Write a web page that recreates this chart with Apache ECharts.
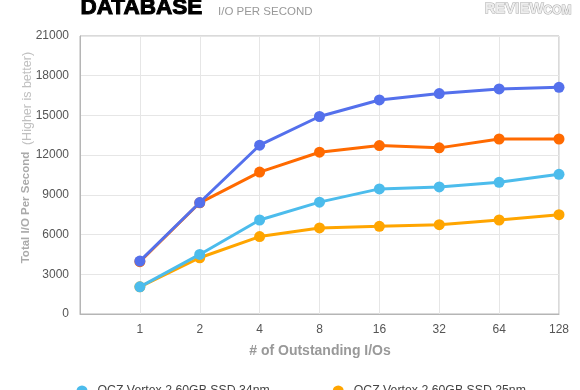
<!DOCTYPE html>
<html><head><meta charset="utf-8">
<script src="https://cdn.jsdelivr.net/npm/echarts@6/dist/echarts.min.js"></script>
<style>html,body{margin:0;padding:0;background:#fff}#c{width:580px;height:390px}</style>
</head><body><div id="c"></div>
<script>
const categories = ['1','2','4','8','16','32','64','128'];
const seriesNames = ['OCZ Vertex 2 60GB SSD 34nm','OCZ Vertex 2 60GB SSD 25nm','OCZ Vertex 2 120GB SSD 34nm','OCZ Vertex 2 120GB SSD 25nm'];
const light34 = [2050, 4500, 7100, 8450, 9450, 9600, 9950, 10550];
const orange25 = [2050, 4250, 5850, 6500, 6620, 6750, 7100, 7500];
const blue120 = [4000, 8420, 12750, 14920, 16170, 16650, 17000, 17120];
const red120 = [3950, 8400, 10720, 12220, 12720, 12550, 13220, 13220];
const yTicks = [0, 3000, 6000, 9000, 12000, 15000, 18000, 21000];

const xData = [''].concat(categories);
const pad = arr => [null].concat(arr);
const font = 'Liberation Sans, Arial, Helvetica, sans-serif';

function mk(name, data, color, z) {
  return { name, type: 'line', data: pad(data), z,
    symbol: 'circle', symbolSize: 11, showSymbol: true,
    lineStyle: { width: 3, color }, itemStyle: { color },
    emphasis: { disabled: true } };
}

const chart = echarts.init(document.getElementById('c'), null, { renderer: 'canvas' });
chart.setOption({
  animation: false,
  backgroundColor: '#fff',
  grid: { left: 80, right: 21, top: 36, bottom: 76, show: true, borderColor: '#b5b5b5', borderWidth: 1 },
  xAxis: {
    type: 'category', data: xData, boundaryGap: false,
    axisLine: { show: true, lineStyle: { color: '#b5b5b5' } },
    axisTick: { show: false },
    axisLabel: { color: '#555', fontSize: 12, fontFamily: font, margin: 10 },
    splitLine: { show: true, lineStyle: { color: '#e6e6e6' } }
  },
  yAxis: {
    type: 'value', min: yTicks[0], max: yTicks[yTicks.length - 1], interval: 3000,
    axisLine: { show: true, lineStyle: { color: '#b5b5b5' } },
    axisTick: { show: false },
    axisLabel: { color: '#555', fontSize: 12, fontFamily: font, margin: 11, formatter: v => String(v) },
    splitLine: { show: true, lineStyle: { color: '#e6e6e6' } }
  },
  legend: {
    data: [seriesNames[0], seriesNames[1], seriesNames[2], seriesNames[3]],
    left: 76.5, top: 385, itemGap: 63, padding: 0,
    icon: 'circle', itemWidth: 11, itemHeight: 11,
    textStyle: { color: '#444', fontSize: 12.3, fontFamily: font, padding: [0, 0, 0, 5] }
  },
  series: [
    mk(seriesNames[1], orange25, '#ffa500', 2),
    mk(seriesNames[0], light34, '#4cbcec', 3),
    mk(seriesNames[3], red120, '#ff6a00', 4),
    mk(seriesNames[2], blue120, '#5470ec', 5)
  ],
  graphic: [
    { type: 'text', left: 80, top: -4, style: { text: 'DATABASE', fill: '#000', stroke: '#000', lineWidth: 1, font: 'bold 22.5px ' + font } },
    { type: 'text', left: 218, top: 6, style: { text: 'I/O PER SECOND', fill: '#999', font: '11.5px ' + font } },
    { type: 'text', left: 484, top: 1, style: { text: 'REVIEW', fill: '#eee', stroke: '#aaa', lineWidth: 1, font: 'bold 15px ' + font } },
    { type: 'text', left: 543, top: 4, style: { text: 'COM', fill: '#eee', stroke: '#aaa', lineWidth: 1, font: 'bold 12px ' + font } },
    { type: 'text', x: 26, y: 207.5, rotation: Math.PI / 2,
      style: { text: 'Total I/O Per Second', fill: '#aaa', font: 'bold 11.5px ' + font, textAlign: 'center', textVerticalAlign: 'middle' } },
    { type: 'text', x: 28, y: 98.5, rotation: Math.PI / 2,
      style: { text: '(Higher is better)', fill: '#c0c0c0', font: '12.5px ' + font, textAlign: 'center', textVerticalAlign: 'middle' } },
    { type: 'text', x: 320, y: 351,
      style: { text: '# of Outstanding I/Os', fill: '#999', font: 'bold 14px ' + font, textAlign: 'center', textVerticalAlign: 'middle' } }
  ]
});
</script>
</body></html>
